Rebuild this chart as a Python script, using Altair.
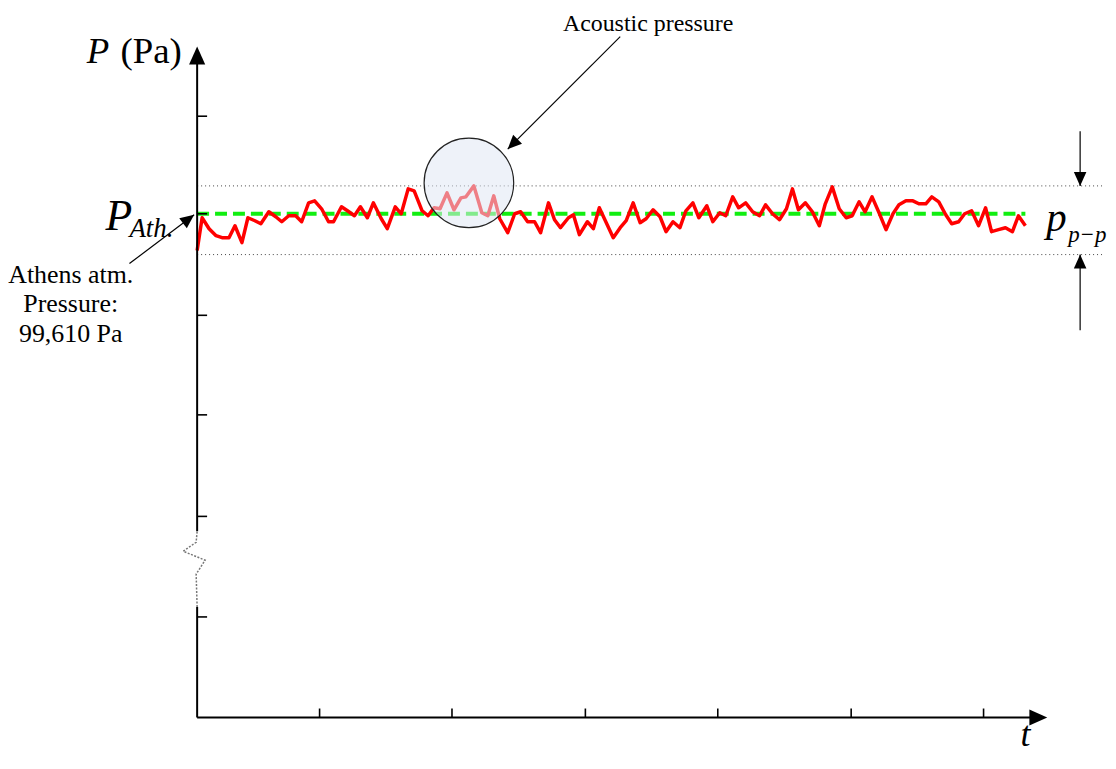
import altair as alt
import pandas as pd

# ---------------- data (t and P in drawing units of the schematic) ----------------
# time samples of the acoustic signal
t_vals = [0, 5, 12, 19, 25, 32, 38, 45, 51, 58, 64, 72, 79, 85, 92, 99, 105, 112, 118, 125,
          132, 137, 145, 151, 158, 164, 171, 177, 185, 191, 199, 205, 212, 218, 226, 232, 238, 244, 251, 258,
          265, 270, 278, 286, 292, 298, 304, 312, 319, 325, 332, 339, 345, 353, 359, 365, 373, 378, 384, 392,
          398, 404, 411, 418, 425, 431, 438, 445, 451, 458, 465, 471, 478, 485, 491, 498, 504, 512, 518, 525,
          531, 538, 544, 551, 558, 565, 571, 578, 585, 592, 598, 604, 611, 618, 625, 631, 638, 645, 652, 658,
          665, 671, 678, 685, 692, 699, 705, 712, 719, 725, 732, 738, 745, 752, 758, 765, 771, 778, 785, 792,
          798, 805, 812, 819, 825, 832]
# pressure level of the signal
p_vals = [469, 502, 491, 484, 482, 482, 494, 477, 502, 499, 496, 508, 503, 498, 504, 504, 498, 517, 519, 511,
          498, 498, 513, 509, 504, 513, 502, 517, 501, 491, 513, 506, 531, 529, 509, 504, 512, 511, 527, 510,
          522, 523, 534, 507, 504, 524, 501, 487, 506, 508, 498, 498, 487, 517, 500, 492, 502, 505, 485, 498,
          491, 512, 497, 482, 492, 499, 517, 497, 501, 510, 503, 488, 498, 492, 509, 517, 502, 514, 498, 507,
          504, 523, 512, 517, 508, 504, 515, 506, 500, 511, 531, 510, 517, 508, 494, 516, 533, 511, 502, 504,
          518, 508, 523, 507, 490, 506, 515, 519, 519, 516, 516, 523, 518, 505, 496, 498, 506, 509, 494, 512,
          488, 490, 492, 488, 504, 494]
P_ATH = 506          # Athens atmospheric pressure level
P_PEAK_HI = 534      # upper peak-to-peak bound
P_PEAK_LO = 465      # lower peak-to-peak bound
signal_end = 832
x_tick_vals = [123, 256, 390, 523, 657, 790]
y_tick_vals = [101, 202, 304, 404, 506, 604]

XD = [0, 855]
YD = [0, 677]
W, H = 855, 677
FONT = "Liberation Serif"


def X(f, **kw):
    return alt.X(f"{f}:Q", scale=alt.Scale(domain=XD, nice=False, zero=False), axis=None, **kw)


def Y(f, **kw):
    return alt.Y(f"{f}:Q", scale=alt.Scale(domain=YD, nice=False, zero=False), axis=None, **kw)


sig = pd.DataFrame({"t": t_vals, "p": p_vals})

# peak-to-peak dotted guides
guides = pd.DataFrame({"y": [P_PEAK_HI, P_PEAK_LO], "t0": [0, 0], "t1": [910, 910]})
guide_layer = alt.Chart(guides).mark_rule(color="#444444", strokeWidth=1, strokeDash=[1, 3]).encode(
    x=X("t0"), x2="t1", y=Y("y"))

# atmospheric level (green dashed)
atm = pd.DataFrame({"y": [P_ATH], "t0": [0], "t1": [signal_end]})
atm_layer = alt.Chart(atm).mark_rule(color="#11ee11", strokeWidth=4, strokeDash=[12, 6]).encode(
    x=X("t0"), x2="t1", y=Y("y"))

# signal
sig_layer = alt.Chart(sig).mark_line(color="#ff0000", strokeWidth=3.5, strokeJoin="round").encode(
    x=X("t"), y=Y("p"))

# magnifier circle
circ = pd.DataFrame({"t": [273], "y": [537]})
circ_layer = alt.Chart(circ).mark_point(shape="circle", size=8100, filled=True, fill="#E0E7F4",
                                        fillOpacity=0.55, stroke="#222222", strokeWidth=1.2,
                                        strokeOpacity=1, opacity=1).encode(x=X("t"), y=Y("y"))

# axes
yaxis = pd.DataFrame({"t": [0, 0], "y0": [0, 187], "y1": [111, 660]})
yaxis_layer = alt.Chart(yaxis).mark_rule(color="black", strokeWidth=2).encode(x=X("t"), y=Y("y0"), y2="y1")
xaxis = pd.DataFrame({"y": [0], "t0": [0], "t1": [840]})
xaxis_layer = alt.Chart(xaxis).mark_rule(color="black", strokeWidth=2).encode(x=X("t0"), x2="t1", y=Y("y"))

yt = pd.DataFrame({"y": y_tick_vals, "t0": [0] * len(y_tick_vals), "t1": [10] * len(y_tick_vals)})
yt_layer = alt.Chart(yt).mark_rule(color="black", strokeWidth=1.6).encode(x=X("t0"), x2="t1", y=Y("y"))
xt = pd.DataFrame({"t": x_tick_vals, "y0": [0] * len(x_tick_vals), "y1": [9] * len(x_tick_vals)})
xt_layer = alt.Chart(xt).mark_rule(color="black", strokeWidth=1.6).encode(x=X("t"), y=Y("y0"), y2="y1")

# axis break (zigzag)
brk = pd.DataFrame({"t": [0, -1, 8, -14, -1, 0], "y": [111, 144, 158, 167, 176, 187], "o": [0, 1, 2, 3, 4, 5]})
brk_layer = alt.Chart(brk).mark_line(color="#777777", strokeWidth=1.5, strokeDash=[2, 1.5]).encode(
    x=X("t"), y=Y("y"), order="o:Q")

# annotation arrows (shafts)
shafts = pd.DataFrame({
    "t0": [-68, 425, 887, 887],
    "y0": [456, 684, 589, 389],
    "t1": [-3, 312, 887, 887],
    "y1": [505, 571, 534, 465],
})
shaft_layer = alt.Chart(shafts).mark_rule(color="black", strokeWidth=1.2).encode(
    x=X("t0"), y=Y("y0"), x2="t1", y2="y1")

# arrow heads (tip at the anchor point)
HEAD = "M0,0L-0.45,1L0.45,1Z"
heads = pd.DataFrame({
    "t": [-3, 312, 887, 887, 0, 854],
    "y": [505, 571, 534, 465, 674, 0],
    "ang": [53, 225, 180, 0, 0, 90],
    "sz": [784, 784, 784, 784, 1296, 1296],
})
head_layer = alt.Chart(heads).mark_point(shape=HEAD, filled=True, color="black", opacity=1).encode(
    x=X("t"), y=Y("y"), angle=alt.Angle("ang:Q", scale=None), size=alt.Size("sz:Q", scale=None))

# texts
txt_norm_c = pd.DataFrame({
    "t": [-127, -127, -127, 453],
    "y": [436, 407, 377, 690],
    "s": ["Athens atm.", "Pressure:", "99,610 Pa", "Acoustic pressure"],
    "fs": [26, 26, 26, 24],
})
txt_norm_l = pd.DataFrame({"t": [-77], "y": [657], "s": ["(Pa)"], "fs": [37]})
txt_ital_l = pd.DataFrame({
    "t": [-92, -68, 853, 875],
    "y": [490, 483, 489, 478],
    "s": ["P", "Ath.", "p", "p\u2212p"],
    "fs": [44, 27, 41, 23],
})
txt_ital_l2 = pd.DataFrame({"t": [-111], "y": [657], "s": ["P"], "fs": [37]})
txt_ital_c = pd.DataFrame({"t": [832], "y": [-29], "s": ["t"], "fs": [36]})


def text_layer(df, align, style):
    return alt.Chart(df).mark_text(font=FONT, align=align, baseline="alphabetic", fontStyle=style,
                                   color="black").encode(
        x=X("t"), y=Y("y"), text="s:N", size=alt.Size("fs:Q", scale=None))


layers = [
    guide_layer, atm_layer, yt_layer, sig_layer, circ_layer,
    yaxis_layer, xaxis_layer, xt_layer, brk_layer, shaft_layer, head_layer,
    text_layer(txt_norm_c, "center", "normal"),
    text_layer(txt_norm_l, "left", "normal"),
    text_layer(txt_ital_l, "left", "italic"),
    text_layer(txt_ital_l2, "left", "italic"),
    text_layer(txt_ital_c, "center", "italic"),
]

chart = alt.layer(*layers).properties(
    width=W, height=H,
    padding={"left": 190, "top": 34, "right": 60, "bottom": 38},
    autosize=alt.AutoSizeParams(type="none"),
    background="white",
).configure_view(strokeWidth=0)

chart.save("out.html", embed_options={"renderer": "svg", "actions": False})
